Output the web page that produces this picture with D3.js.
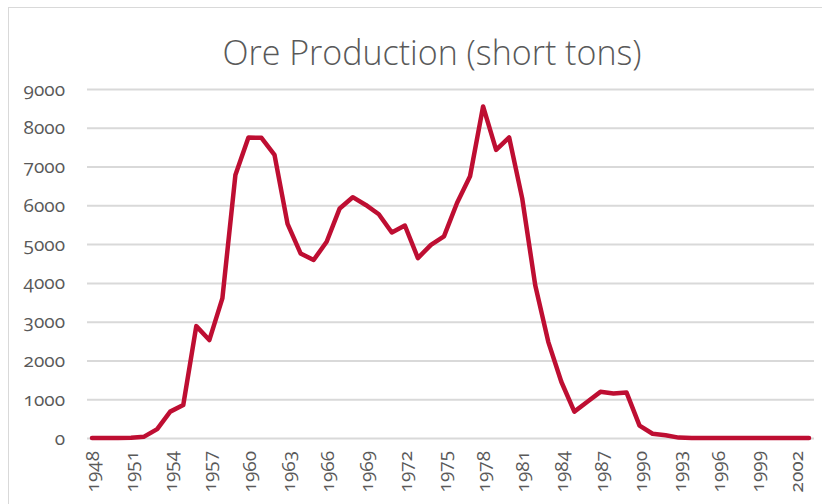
<!DOCTYPE html>
<html lang="en">
  <head>
    <meta charset="utf-8">
    <title>Ore Production</title>
    <style>
      body { margin: 0; background: #fff; }
      .chart text { font-family: "Open Sans", "DejaVu Sans", sans-serif; fill: #595959; font-variant-numeric: oldstyle-nums; }
      .grid line { stroke: #d9d9d9; stroke-width: 2; }
      .grid .domain { display: none; }
      .axis .domain, .axis line { display: none; }
    </style>
  </head>
  <body>
    <svg class="chart"></svg>

    <script src="https://cdn.jsdelivr.net/npm/d3@7"></script>
    <script type="text/javascript">
    // years of the series (1948 - 2003)
    var years = d3.range(1948, 2004);
    // short tons per year
    var tons = [
      0, 0, 0, 5, 35, 230, 680, 850, 2885, 2525,
      3600, 6780, 7750, 7740, 7300, 5520, 4760, 4590, 5060, 5920,
      6210, 6010, 5770, 5300, 5480, 4640, 4980, 5200, 6060, 6750,
      8550, 7430, 7750, 6180, 3940, 2480, 1450, 680, 935, 1190,
      1150, 1175, 320, 110, 70, 10, 0, 0, 0, 0,
      0, 0, 0, 0, 0, 0
    ];
    var yTicks = [0, 1000, 2000, 3000, 4000, 5000, 6000, 7000, 8000, 9000];
    var xTicks = d3.range(1948, 2003, 3);
    var title = "Ore Production (short tons)";

    var data = years.map(function(yr, i) {
      return {year: yr, value: tons[i]};
    });

    var svgW = 822, svgH = 504;
    var margin = {top: 89, left: 92},
        width = 809 - margin.left,
        height = 438 - margin.top;
    var gridLeft = 87, gridRight = 814;

    var x = d3.scaleLinear().domain([1948, 2003]).range([0, width]);
    var y = d3.scaleLinear().domain([0, 9000]).range([height, 0]);

    var svg = d3.select(".chart")
        .attr("width", svgW)
        .attr("height", svgH);

    // outer chart frame
    svg.append("rect")
        .attr("x", 8.5)
        .attr("y", 7.5)
        .attr("width", 830)
        .attr("height", 520)
        .attr("fill", "#fff")
        .attr("stroke", "#d9d9d9");

    svg.append("text")
        .attr("x", 432)
        .attr("y", 65)
        .attr("text-anchor", "middle")
        .style("font-size", "34px")
        .style("font-weight", 300)
        .text(title);

    var chart = svg.append("g")
        .attr("transform", "translate(" + margin.left + "," + margin.top + ")");

    // horizontal gridlines
    chart.append("g")
        .attr("class", "grid")
        .attr("transform", "translate(" + (gridLeft - margin.left) + ",0)")
        .call(d3.axisLeft(y).tickValues(yTicks).tickSize(-(gridRight - gridLeft)).tickFormat(""));

    // y axis labels
    chart.append("g")
        .attr("class", "axis")
        .attr("transform", "translate(" + (65 - margin.left) + ",0)")
        .call(d3.axisLeft(y).tickValues(yTicks).tickSize(0).tickPadding(0).tickFormat(d3.format("d")))
        .selectAll("text")
          .style("font-size", "19px")
          .attr("text-anchor", "end");

    // x axis labels, rotated
    chart.append("g")
        .attr("class", "axis")
        .attr("transform", "translate(0," + height + ")")
        .call(d3.axisBottom(x).tickValues(xTicks).tickSize(0).tickFormat(d3.format("d")))
        .selectAll("text")
          .style("font-size", "19px")
          .attr("transform", "rotate(-90)")
          .attr("text-anchor", "end")
          .attr("x", -13)
          .attr("y", 0)
          .attr("dy", "0.35em");

    var line = d3.line()
        .x(function(d) { return x(d.year); })
        .y(function(d) { return y(d.value); });

    chart.append("path")
        .datum(data)
        .attr("fill", "none")
        .attr("stroke", "#be0e32")
        .attr("stroke-width", 4.5)
        .attr("stroke-linejoin", "round")
        .attr("stroke-linecap", "round")
        .attr("d", line);
    </script>
  </body>
</html>
